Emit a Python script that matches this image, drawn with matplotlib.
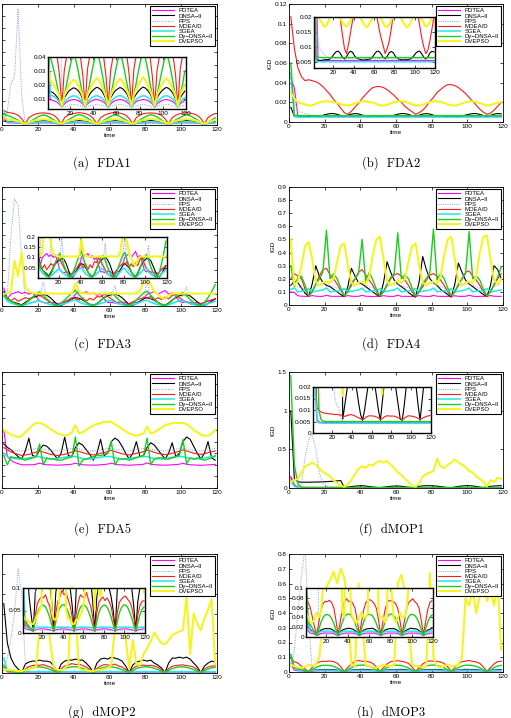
import matplotlib.pyplot as plt
from matplotlib.ticker import FuncFormatter

plt.rcParams['font.family'] = ['Liberation Sans', 'DejaVu Sans']

W, H = 511, 718

# time steps (every second step of the 120 environments)
t = list(range(1, 120, 2))

names = ['PDTEA', 'DNSA\u2212II', 'PPS', 'MOEA/D', 'SGEA', 'Dy\u2212DNSA\u2212II', 'DVEPSO']
colors = ['#ff00ff', '#000000', '#8c9ed8', '#ff1a1a', '#20e8e8', '#1ecc1e', '#f4f420']
widths = [0.8, 0.8, 0.7, 0.8, 1.1, 1.0, 1.5]
styles = ['-', '-', (0, (1, 1.3)), '-', '-', '-', '-']

# ---------------- (a) FDA1 ----------------
fda1_pdtea = [
    0.030, 0.0090, 0.0088, 0.0082, 0.0072, 0.0058, 0.0040, 0.0060, 0.0074, 0.0084,
    0.0090, 0.0094, 0.0091, 0.0086, 0.0076, 0.0060, 0.0041, 0.0061, 0.0075, 0.0085,
    0.0092, 0.0095, 0.0090, 0.0084, 0.0074, 0.0059, 0.0040, 0.0060, 0.0076, 0.0086,
    0.0091, 0.0093, 0.0091, 0.0085, 0.0075, 0.0060, 0.0041, 0.0062, 0.0077, 0.0086,
    0.0090, 0.0094, 0.0092, 0.0086, 0.0076, 0.0061, 0.0040, 0.0060, 0.0075, 0.0085,
    0.0091, 0.0094, 0.0090, 0.0085, 0.0075, 0.0060, 0.0041, 0.0061, 0.0076, 0.0086]
fda1_dnsa = [
    0.016, 0.0150, 0.0145, 0.0130, 0.0110, 0.0085, 0.0045, 0.0105, 0.0130, 0.0155,
    0.0168, 0.0178, 0.0172, 0.0158, 0.0135, 0.0095, 0.0045, 0.0102, 0.0132, 0.0154,
    0.0170, 0.0182, 0.0175, 0.0160, 0.0133, 0.0094, 0.0046, 0.0104, 0.0134, 0.0156,
    0.0169, 0.0180, 0.0173, 0.0157, 0.0134, 0.0096, 0.0045, 0.0103, 0.0131, 0.0153,
    0.0171, 0.0183, 0.0176, 0.0159, 0.0136, 0.0095, 0.0046, 0.0105, 0.0133, 0.0155,
    0.0170, 0.0181, 0.0174, 0.0158, 0.0134, 0.0094, 0.0045, 0.0104, 0.0132, 0.0154]
fda1_pps = [
    0.020, 0.060, 0.170, 0.200, 0.480, 0.120, 0.0050, 0.0042, 0.0045, 0.0050,
    0.0055, 0.0058, 0.0056, 0.0052, 0.0048, 0.0042, 0.0035, 0.0042, 0.0048, 0.0052,
    0.0056, 0.0057, 0.0055, 0.0051, 0.0047, 0.0041, 0.0035, 0.0043, 0.0049, 0.0053,
    0.0055, 0.0058, 0.0056, 0.0052, 0.0048, 0.0042, 0.0036, 0.0042, 0.0048, 0.0052,
    0.0056, 0.0058, 0.0055, 0.0051, 0.0047, 0.0042, 0.0035, 0.0043, 0.0049, 0.0053,
    0.0055, 0.0057, 0.0056, 0.0052, 0.0048, 0.0041, 0.0035, 0.0042, 0.0048, 0.0052]
fda1_moead = [
    0.060, 0.052, 0.050, 0.047, 0.040, 0.026, 0.0045, 0.030, 0.040, 0.046,
    0.049, 0.050, 0.049, 0.046, 0.040, 0.027, 0.0045, 0.031, 0.041, 0.046,
    0.049, 0.051, 0.049, 0.046, 0.040, 0.026, 0.0046, 0.030, 0.040, 0.046,
    0.050, 0.051, 0.050, 0.047, 0.041, 0.027, 0.0045, 0.031, 0.041, 0.047,
    0.049, 0.050, 0.049, 0.046, 0.040, 0.026, 0.0046, 0.030, 0.040, 0.046,
    0.050, 0.051, 0.049, 0.046, 0.040, 0.027, 0.0045, 0.031, 0.041, 0.047]
fda1_sgea = [
    0.060, 0.0125, 0.0120, 0.0110, 0.0095, 0.0072, 0.0042, 0.0072, 0.0092, 0.0106,
    0.0116, 0.0120, 0.0117, 0.0107, 0.0093, 0.0071, 0.0042, 0.0073, 0.0093, 0.0107,
    0.0117, 0.0121, 0.0116, 0.0106, 0.0092, 0.0070, 0.0043, 0.0072, 0.0094, 0.0108,
    0.0118, 0.0122, 0.0117, 0.0107, 0.0093, 0.0071, 0.0042, 0.0071, 0.0092, 0.0106,
    0.0116, 0.0120, 0.0118, 0.0108, 0.0094, 0.0072, 0.0043, 0.0073, 0.0093, 0.0107,
    0.0117, 0.0121, 0.0117, 0.0107, 0.0093, 0.0071, 0.0042, 0.0072, 0.0093, 0.0107]
fda1_dy = [
    0.045, 0.040, 0.034, 0.027, 0.019, 0.011, 0.0045, 0.012, 0.020, 0.029,
    0.037, 0.042, 0.038, 0.030, 0.021, 0.012, 0.0045, 0.013, 0.021, 0.030,
    0.038, 0.043, 0.039, 0.031, 0.022, 0.012, 0.0046, 0.012, 0.020, 0.029,
    0.037, 0.042, 0.038, 0.030, 0.021, 0.013, 0.0045, 0.013, 0.021, 0.030,
    0.038, 0.043, 0.039, 0.031, 0.021, 0.012, 0.0046, 0.012, 0.021, 0.029,
    0.037, 0.042, 0.038, 0.030, 0.021, 0.012, 0.0045, 0.013, 0.020, 0.030]
fda1_dvepso = [
    0.035, 0.0230, 0.0210, 0.0185, 0.0155, 0.0110, 0.0048, 0.0120, 0.0160, 0.0195,
    0.0220, 0.0235, 0.0225, 0.0195, 0.0160, 0.0115, 0.0048, 0.0125, 0.0165, 0.0200,
    0.0225, 0.0250, 0.0230, 0.0200, 0.0162, 0.0112, 0.0049, 0.0122, 0.0162, 0.0198,
    0.0222, 0.0245, 0.0228, 0.0197, 0.0158, 0.0114, 0.0048, 0.0124, 0.0166, 0.0202,
    0.0228, 0.0255, 0.0232, 0.0199, 0.0161, 0.0113, 0.0049, 0.0123, 0.0164, 0.0200,
    0.0224, 0.0248, 0.0229, 0.0198, 0.0160, 0.0114, 0.0048, 0.0125, 0.0165, 0.0201]

# ---------------- (b) FDA2 ----------------
fda2_pdtea = [
    0.045, 0.035, 0.0056, 0.0055, 0.0055, 0.0054, 0.0055, 0.0055, 0.0054, 0.0055,
    0.0055, 0.0054, 0.0055, 0.0055, 0.0054, 0.0055, 0.0055, 0.0055, 0.0054, 0.0055,
    0.0055, 0.0055, 0.0054, 0.0055, 0.0055, 0.0054, 0.0055, 0.0055, 0.0055, 0.0054,
    0.0055, 0.0055, 0.0054, 0.0055, 0.0055, 0.0055, 0.0054, 0.0055, 0.0055, 0.0055,
    0.0054, 0.0055, 0.0055, 0.0055, 0.0054, 0.0055, 0.0055, 0.0054, 0.0055, 0.0055,
    0.0055, 0.0054, 0.0055, 0.0055, 0.0055, 0.0054, 0.0055, 0.0055, 0.0054, 0.0055]
fda2_dnsa = [
    0.015, 0.0060, 0.0055, 0.0055, 0.0056, 0.0057, 0.0058, 0.0058, 0.0060, 0.0068,
    0.0078, 0.0085, 0.0086, 0.0078, 0.0066, 0.0060, 0.0068, 0.0080, 0.0086, 0.0082,
    0.0070, 0.0063, 0.0060, 0.0058, 0.0057, 0.0057, 0.0058, 0.0059, 0.0061, 0.0069,
    0.0079, 0.0086, 0.0085, 0.0077, 0.0065, 0.0061, 0.0069, 0.0081, 0.0085, 0.0081,
    0.0069, 0.0062, 0.0059, 0.0058, 0.0057, 0.0058, 0.0058, 0.0059, 0.0062, 0.0070,
    0.0079, 0.0085, 0.0086, 0.0077, 0.0066, 0.0060, 0.0067, 0.0080, 0.0086, 0.0083]
fda2_pps = [
    0.040, 0.020, 0.0110, 0.0095, 0.0085, 0.0075, 0.0068, 0.0064, 0.0062, 0.0061,
    0.0060, 0.0061, 0.0060, 0.0060, 0.0061, 0.0060, 0.0060, 0.0061, 0.0060, 0.0060,
    0.0061, 0.0060, 0.0060, 0.0061, 0.0060, 0.0060, 0.0061, 0.0060, 0.0060, 0.0061,
    0.0060, 0.0060, 0.0061, 0.0060, 0.0060, 0.0061, 0.0060, 0.0060, 0.0061, 0.0060,
    0.0060, 0.0061, 0.0060, 0.0060, 0.0061, 0.0060, 0.0060, 0.0061, 0.0060, 0.0060,
    0.0061, 0.0060, 0.0060, 0.0061, 0.0060, 0.0060, 0.0061, 0.0060, 0.0060, 0.0061]
fda2_moead = [
    0.107, 0.075, 0.055, 0.046, 0.042, 0.043, 0.042, 0.041, 0.039, 0.036,
    0.032, 0.028, 0.023, 0.019, 0.014, 0.0095, 0.0078, 0.011, 0.015, 0.019,
    0.024, 0.028, 0.032, 0.035, 0.036, 0.036, 0.035, 0.033, 0.030, 0.027,
    0.023, 0.020, 0.016, 0.013, 0.0105, 0.0078, 0.0095, 0.012, 0.016, 0.021,
    0.025, 0.030, 0.033, 0.036, 0.038, 0.038, 0.037, 0.035, 0.032, 0.029,
    0.025, 0.021, 0.017, 0.013, 0.010, 0.0078, 0.009, 0.012, 0.016, 0.020]
fda2_sgea = [
    0.050, 0.0053, 0.0052, 0.0051, 0.0051, 0.0050, 0.0051, 0.0051, 0.0050, 0.0051,
    0.0051, 0.0050, 0.0051, 0.0051, 0.0050, 0.0051, 0.0051, 0.0051, 0.0050, 0.0051,
    0.0051, 0.0051, 0.0050, 0.0051, 0.0051, 0.0050, 0.0051, 0.0051, 0.0051, 0.0050,
    0.0051, 0.0051, 0.0050, 0.0051, 0.0051, 0.0051, 0.0050, 0.0051, 0.0051, 0.0051,
    0.0050, 0.0051, 0.0051, 0.0051, 0.0050, 0.0051, 0.0051, 0.0050, 0.0051, 0.0051,
    0.0051, 0.0050, 0.0051, 0.0051, 0.0051, 0.0050, 0.0051, 0.0051, 0.0050, 0.0051]
fda2_dy = [
    0.060, 0.0068, 0.0066, 0.0065, 0.0065, 0.0064, 0.0065, 0.0065, 0.0064, 0.0065,
    0.0065, 0.0064, 0.0065, 0.0065, 0.0064, 0.0065, 0.0065, 0.0065, 0.0064, 0.0065,
    0.0065, 0.0065, 0.0064, 0.0065, 0.0065, 0.0064, 0.0065, 0.0065, 0.0065, 0.0064,
    0.0065, 0.0065, 0.0064, 0.0065, 0.0065, 0.0065, 0.0064, 0.0065, 0.0065, 0.0065,
    0.0064, 0.0065, 0.0065, 0.0065, 0.0064, 0.0065, 0.0065, 0.0064, 0.0065, 0.0065,
    0.0065, 0.0064, 0.0065, 0.0065, 0.0065, 0.0064, 0.0065, 0.0065, 0.0064, 0.0065]
fda2_dvepso = [
    0.030, 0.0240, 0.0200, 0.0190, 0.0180, 0.0168, 0.0170, 0.0185, 0.0200, 0.0208,
    0.0210, 0.0208, 0.0202, 0.0193, 0.0182, 0.0172, 0.0168, 0.0176, 0.0190, 0.0202,
    0.0210, 0.0211, 0.0205, 0.0196, 0.0183, 0.0171, 0.0166, 0.0174, 0.0188, 0.0201,
    0.0209, 0.0212, 0.0206, 0.0195, 0.0181, 0.0169, 0.0167, 0.0176, 0.0190, 0.0203,
    0.0210, 0.0211, 0.0204, 0.0194, 0.0180, 0.0170, 0.0166, 0.0175, 0.0189, 0.0202,
    0.0209, 0.0210, 0.0203, 0.0192, 0.0180, 0.0168, 0.0172, 0.0185, 0.0196, 0.0203]

# ---------------- (c) FDA3 ----------------
fda3_pdtea = [
    0.150, 0.060, 0.100, 0.110, 0.120, 0.105, 0.115, 0.100, 0.110, 0.080,
    0.040, 0.030, 0.025, 0.030, 0.030, 0.020, 0.025, 0.030, 0.035, 0.050,
    0.100, 0.115, 0.105, 0.120, 0.100, 0.110, 0.090, 0.100, 0.060, 0.030,
    0.030, 0.025, 0.030, 0.035, 0.025, 0.020, 0.030, 0.030, 0.040, 0.060,
    0.100, 0.110, 0.120, 0.100, 0.115, 0.130, 0.100, 0.110, 0.080, 0.040,
    0.030, 0.035, 0.030, 0.025, 0.030, 0.020, 0.030, 0.040, 0.050, 0.060]
fda3_dnsa = [
    0.120, 0.060, 0.040, 0.030, 0.020, 0.010, 0.030, 0.050, 0.070, 0.080,
    0.090, 0.095, 0.090, 0.070, 0.040, 0.010, 0.004, 0.020, 0.040, 0.060,
    0.070, 0.065, 0.050, 0.030, 0.015, 0.006, 0.020, 0.045, 0.070, 0.085,
    0.095, 0.100, 0.090, 0.070, 0.040, 0.012, 0.005, 0.020, 0.040, 0.060,
    0.070, 0.060, 0.050, 0.030, 0.015, 0.006, 0.025, 0.050, 0.070, 0.085,
    0.095, 0.095, 0.085, 0.060, 0.035, 0.010, 0.005, 0.020, 0.040, 0.060]
fda3_pps = [
    0.060, 0.100, 0.600, 0.900, 0.850, 0.400, 0.050, 0.030, 0.025, 0.030,
    0.080, 0.200, 0.050, 0.030, 0.020, 0.015, 0.020, 0.025, 0.030, 0.060,
    0.150, 0.050, 0.030, 0.025, 0.020, 0.015, 0.020, 0.025, 0.030, 0.050,
    0.080, 0.170, 0.040, 0.025, 0.020, 0.015, 0.020, 0.025, 0.035, 0.070,
    0.220, 0.060, 0.030, 0.025, 0.020, 0.015, 0.020, 0.025, 0.030, 0.050,
    0.090, 0.160, 0.040, 0.025, 0.020, 0.015, 0.020, 0.025, 0.030, 0.040]
fda3_moead = [
    0.080, 0.070, 0.045, 0.065, 0.040, 0.055, 0.070, 0.060, 0.075, 0.100,
    0.090, 0.070, 0.050, 0.030, 0.015, 0.010, 0.020, 0.040, 0.050, 0.070,
    0.060, 0.050, 0.070, 0.040, 0.065, 0.050, 0.080, 0.075, 0.100, 0.080,
    0.060, 0.040, 0.020, 0.012, 0.010, 0.020, 0.035, 0.050, 0.060, 0.070,
    0.065, 0.080, 0.050, 0.070, 0.055, 0.075, 0.060, 0.090, 0.100, 0.070,
    0.050, 0.035, 0.020, 0.012, 0.010, 0.020, 0.030, 0.045, 0.050, 0.060]
fda3_sgea = [
    0.090, 0.040, 0.025, 0.015, 0.008, 0.003, 0.010, 0.020, 0.030, 0.040,
    0.045, 0.030, 0.020, 0.012, 0.006, 0.003, 0.010, 0.020, 0.032, 0.045,
    0.050, 0.032, 0.020, 0.012, 0.006, 0.003, 0.011, 0.021, 0.030, 0.042,
    0.046, 0.030, 0.019, 0.011, 0.006, 0.003, 0.010, 0.020, 0.031, 0.044,
    0.048, 0.031, 0.020, 0.012, 0.006, 0.003, 0.010, 0.022, 0.033, 0.045,
    0.047, 0.030, 0.020, 0.012, 0.006, 0.003, 0.010, 0.020, 0.030, 0.040]
fda3_dy = [
    0.100, 0.060, 0.040, 0.025, 0.012, 0.004, 0.020, 0.045, 0.070, 0.100,
    0.120, 0.090, 0.060, 0.035, 0.012, 0.004, 0.025, 0.050, 0.080, 0.110,
    0.130, 0.095, 0.060, 0.030, 0.012, 0.004, 0.020, 0.045, 0.070, 0.100,
    0.110, 0.085, 0.055, 0.030, 0.010, 0.004, 0.022, 0.050, 0.080, 0.110,
    0.125, 0.090, 0.060, 0.032, 0.012, 0.004, 0.020, 0.045, 0.075, 0.100,
    0.115, 0.085, 0.055, 0.030, 0.012, 0.004, 0.030, 0.070, 0.120, 0.180]
fda3_dvepso = [
    0.100, 0.110, 0.120, 0.380, 0.250, 0.450, 0.160, 0.120, 0.110, 0.105,
    0.105, 0.105, 0.104, 0.105, 0.105, 0.104, 0.105, 0.105, 0.106, 0.105,
    0.190, 0.120, 0.107, 0.105, 0.105, 0.105, 0.104, 0.105, 0.105, 0.105,
    0.105, 0.105, 0.104, 0.105, 0.106, 0.105, 0.105, 0.104, 0.130, 0.200,
    0.210, 0.180, 0.120, 0.100, 0.070, 0.060, 0.090, 0.104, 0.105, 0.105,
    0.105, 0.105, 0.105, 0.104, 0.105, 0.105, 0.105, 0.105, 0.105, 0.105]

# ---------------- (d) FDA4 ----------------
fda4_pdtea = [
    0.100, 0.095, 0.070, 0.067, 0.066, 0.066, 0.072, 0.067, 0.066, 0.066,
    0.075, 0.067, 0.066, 0.066, 0.066, 0.065, 0.072, 0.067, 0.066, 0.066,
    0.074, 0.067, 0.066, 0.065, 0.066, 0.066, 0.071, 0.067, 0.066, 0.066,
    0.075, 0.066, 0.066, 0.066, 0.065, 0.066, 0.072, 0.067, 0.066, 0.065,
    0.074, 0.067, 0.066, 0.066, 0.066, 0.065, 0.071, 0.066, 0.066, 0.066,
    0.075, 0.067, 0.065, 0.066, 0.066, 0.066, 0.072, 0.067, 0.066, 0.066]
fda4_dnsa = [
    0.150, 0.180, 0.170, 0.130, 0.090, 0.065, 0.160, 0.300, 0.220, 0.170,
    0.150, 0.140, 0.120, 0.100, 0.080, 0.065, 0.140, 0.280, 0.220, 0.170,
    0.160, 0.140, 0.120, 0.100, 0.080, 0.065, 0.170, 0.330, 0.250, 0.190,
    0.160, 0.140, 0.120, 0.095, 0.075, 0.060, 0.180, 0.370, 0.270, 0.200,
    0.170, 0.150, 0.120, 0.100, 0.080, 0.060, 0.160, 0.320, 0.250, 0.190,
    0.160, 0.140, 0.120, 0.100, 0.080, 0.065, 0.150, 0.300, 0.270, 0.200]
fda4_pps = [
    0.160, 0.150, 0.140, 0.130, 0.120, 0.110, 0.120, 0.140, 0.150, 0.160,
    0.160, 0.150, 0.140, 0.130, 0.120, 0.110, 0.120, 0.140, 0.150, 0.160,
    0.165, 0.150, 0.140, 0.130, 0.120, 0.110, 0.120, 0.140, 0.150, 0.160,
    0.160, 0.150, 0.140, 0.130, 0.120, 0.110, 0.120, 0.140, 0.150, 0.165,
    0.160, 0.150, 0.140, 0.130, 0.120, 0.110, 0.120, 0.140, 0.150, 0.160,
    0.160, 0.150, 0.140, 0.130, 0.120, 0.110, 0.120, 0.140, 0.150, 0.160]
fda4_moead = [
    0.200, 0.240, 0.220, 0.200, 0.120, 0.065, 0.100, 0.160, 0.220, 0.270,
    0.280, 0.230, 0.200, 0.160, 0.110, 0.070, 0.100, 0.150, 0.200, 0.250,
    0.270, 0.230, 0.190, 0.150, 0.100, 0.065, 0.100, 0.150, 0.200, 0.230,
    0.240, 0.220, 0.190, 0.150, 0.100, 0.065, 0.100, 0.140, 0.190, 0.230,
    0.240, 0.220, 0.190, 0.150, 0.100, 0.065, 0.100, 0.150, 0.200, 0.250,
    0.260, 0.220, 0.190, 0.150, 0.100, 0.065, 0.100, 0.150, 0.200, 0.240]
fda4_sgea = [
    0.120, 0.130, 0.100, 0.105, 0.110, 0.125, 0.100, 0.105, 0.110, 0.115,
    0.130, 0.100, 0.104, 0.108, 0.112, 0.126, 0.100, 0.105, 0.110, 0.114,
    0.128, 0.100, 0.105, 0.109, 0.112, 0.125, 0.101, 0.105, 0.110, 0.115,
    0.130, 0.100, 0.104, 0.108, 0.113, 0.126, 0.100, 0.105, 0.109, 0.114,
    0.129, 0.101, 0.105, 0.108, 0.112, 0.125, 0.100, 0.104, 0.110, 0.115,
    0.130, 0.100, 0.105, 0.109, 0.112, 0.126, 0.100, 0.105, 0.110, 0.115]
fda4_dy = [
    0.300, 0.140, 0.210, 0.220, 0.150, 0.070, 0.100, 0.160, 0.200, 0.250,
    0.570, 0.200, 0.240, 0.200, 0.130, 0.070, 0.100, 0.170, 0.200, 0.240,
    0.500, 0.180, 0.250, 0.190, 0.120, 0.070, 0.100, 0.160, 0.210, 0.240,
    0.550, 0.200, 0.230, 0.200, 0.130, 0.070, 0.100, 0.170, 0.200, 0.250,
    0.580, 0.190, 0.240, 0.200, 0.130, 0.070, 0.100, 0.160, 0.200, 0.240,
    0.560, 0.200, 0.220, 0.190, 0.120, 0.070, 0.100, 0.160, 0.210, 0.290]
fda4_dvepso = [
    0.500, 0.150, 0.180, 0.300, 0.450, 0.480, 0.350, 0.180, 0.150, 0.170,
    0.180, 0.170, 0.200, 0.330, 0.450, 0.470, 0.300, 0.170, 0.150, 0.170,
    0.180, 0.160, 0.220, 0.380, 0.500, 0.520, 0.350, 0.180, 0.150, 0.170,
    0.190, 0.170, 0.200, 0.330, 0.450, 0.470, 0.300, 0.170, 0.150, 0.170,
    0.180, 0.160, 0.220, 0.380, 0.500, 0.520, 0.350, 0.180, 0.150, 0.170,
    0.180, 0.170, 0.220, 0.400, 0.520, 0.530, 0.350, 0.190, 0.160, 0.200]

# ---------------- (e) FDA5 ----------------
fda5_pdtea = [
    0.500, 0.270, 0.240, 0.220, 0.210, 0.200, 0.200, 0.200, 0.200, 0.205,
    0.215, 0.205, 0.200, 0.200, 0.198, 0.197, 0.198, 0.200, 0.202, 0.205,
    0.214, 0.204, 0.200, 0.199, 0.198, 0.197, 0.198, 0.200, 0.202, 0.206,
    0.215, 0.205, 0.200, 0.200, 0.198, 0.196, 0.198, 0.200, 0.201, 0.205,
    0.216, 0.205, 0.201, 0.199, 0.198, 0.197, 0.198, 0.200, 0.202, 0.205,
    0.214, 0.204, 0.200, 0.199, 0.197, 0.196, 0.197, 0.199, 0.201, 0.204]
fda5_dnsa = [
    0.380, 0.350, 0.330, 0.300, 0.270, 0.250, 0.320, 0.430, 0.280, 0.270,
    0.330, 0.370, 0.360, 0.330, 0.290, 0.250, 0.300, 0.440, 0.280, 0.270,
    0.350, 0.390, 0.370, 0.330, 0.290, 0.240, 0.300, 0.420, 0.280, 0.300,
    0.400, 0.430, 0.410, 0.360, 0.300, 0.250, 0.300, 0.400, 0.270, 0.280,
    0.350, 0.390, 0.370, 0.330, 0.290, 0.250, 0.300, 0.390, 0.270, 0.300,
    0.400, 0.440, 0.420, 0.360, 0.300, 0.250, 0.300, 0.400, 0.260, 0.240]
fda5_pps = [
    0.340, 0.335, 0.330, 0.325, 0.320, 0.320, 0.325, 0.330, 0.335, 0.340,
    0.340, 0.335, 0.330, 0.325, 0.320, 0.320, 0.325, 0.330, 0.335, 0.340,
    0.342, 0.336, 0.330, 0.324, 0.320, 0.321, 0.326, 0.331, 0.336, 0.340,
    0.340, 0.335, 0.330, 0.325, 0.320, 0.320, 0.325, 0.330, 0.335, 0.341,
    0.341, 0.335, 0.329, 0.325, 0.321, 0.320, 0.324, 0.330, 0.335, 0.340,
    0.340, 0.335, 0.330, 0.325, 0.320, 0.320, 0.325, 0.330, 0.335, 0.340]
fda5_moead = [
    0.350, 0.330, 0.310, 0.300, 0.290, 0.280, 0.285, 0.290, 0.300, 0.310,
    0.320, 0.310, 0.300, 0.290, 0.285, 0.280, 0.285, 0.290, 0.300, 0.310,
    0.320, 0.315, 0.305, 0.295, 0.290, 0.285, 0.290, 0.300, 0.305, 0.315,
    0.325, 0.315, 0.305, 0.295, 0.290, 0.285, 0.290, 0.300, 0.305, 0.315,
    0.325, 0.318, 0.308, 0.298, 0.292, 0.288, 0.292, 0.300, 0.308, 0.318,
    0.328, 0.320, 0.310, 0.300, 0.294, 0.290, 0.295, 0.305, 0.312, 0.320]
fda5_sgea = [
    0.300, 0.270, 0.260, 0.255, 0.250, 0.250, 0.255, 0.260, 0.265, 0.270,
    0.270, 0.260, 0.255, 0.250, 0.250, 0.255, 0.260, 0.265, 0.270, 0.270,
    0.272, 0.262, 0.255, 0.251, 0.250, 0.254, 0.260, 0.265, 0.269, 0.271,
    0.270, 0.261, 0.256, 0.250, 0.250, 0.255, 0.259, 0.265, 0.270, 0.270,
    0.271, 0.260, 0.255, 0.251, 0.249, 0.255, 0.260, 0.264, 0.270, 0.271,
    0.270, 0.261, 0.255, 0.250, 0.250, 0.254, 0.260, 0.265, 0.270, 0.270]
fda5_dy = [
    0.280, 0.200, 0.270, 0.260, 0.260, 0.250, 0.240, 0.250, 0.260, 0.270,
    0.380, 0.200, 0.260, 0.250, 0.250, 0.240, 0.240, 0.250, 0.260, 0.270,
    0.440, 0.190, 0.240, 0.250, 0.260, 0.270, 0.280, 0.280, 0.290, 0.300,
    0.400, 0.200, 0.250, 0.250, 0.250, 0.240, 0.250, 0.260, 0.270, 0.280,
    0.430, 0.200, 0.250, 0.260, 0.260, 0.250, 0.250, 0.260, 0.270, 0.280,
    0.420, 0.210, 0.260, 0.250, 0.260, 0.250, 0.240, 0.250, 0.260, 0.280]
fda5_dvepso = [
    0.500, 0.480, 0.460, 0.450, 0.440, 0.450, 0.480, 0.510, 0.540, 0.560,
    0.560, 0.550, 0.530, 0.510, 0.490, 0.470, 0.460, 0.450, 0.460, 0.480,
    0.540, 0.470, 0.480, 0.500, 0.520, 0.540, 0.550, 0.560, 0.570, 0.570,
    0.570, 0.550, 0.530, 0.510, 0.490, 0.470, 0.460, 0.450, 0.460, 0.470,
    0.530, 0.470, 0.480, 0.500, 0.520, 0.540, 0.550, 0.560, 0.560, 0.560,
    0.560, 0.550, 0.530, 0.500, 0.480, 0.460, 0.450, 0.450, 0.470, 0.500]

# ---------------- (f) dMOP1 ----------------
dmop1_pdtea = [
    0.150, 0.040, 0.0060, 0.0048, 0.0047, 0.0047, 0.0046, 0.0047, 0.0047, 0.0046,
    0.0047, 0.0047, 0.0046, 0.0047, 0.0047, 0.0047, 0.0046, 0.0047, 0.0047, 0.0046,
    0.0047, 0.0046, 0.0047, 0.0047, 0.0047, 0.0046, 0.0047, 0.0047, 0.0046, 0.0047,
    0.0047, 0.0047, 0.0046, 0.0047, 0.0047, 0.0046, 0.0047, 0.0047, 0.0047, 0.0046,
    0.0047, 0.0046, 0.0047, 0.0047, 0.0046, 0.0047, 0.0047, 0.0047, 0.0046, 0.0047,
    0.0047, 0.0047, 0.0046, 0.0047, 0.0047, 0.0046, 0.0047, 0.0047, 0.0047, 0.0046]
dmop1_dnsa = [
    1.000, 0.120, 0.080, 0.076, 0.075, 0.075, 0.076, 0.077, 0.078, 0.080,
    0.082, 0.085, 0.088, 0.092, 0.097, 0.006, 0.012, 0.018, 0.024, 0.028,
    0.030, 0.025, 0.019, 0.013, 0.008, 0.0055, 0.010, 0.016, 0.022, 0.025,
    0.026, 0.022, 0.016, 0.010, 0.0055, 0.014, 0.022, 0.027, 0.030, 0.030,
    0.028, 0.024, 0.018, 0.012, 0.006, 0.0055, 0.012, 0.020, 0.026, 0.030,
    0.030, 0.026, 0.020, 0.012, 0.0055, 0.014, 0.022, 0.026, 0.028, 0.030]
dmop1_pps = [
    0.050, 0.040, 0.030, 0.050, 0.400, 0.620, 0.700, 0.500, 0.200, 0.060,
    0.030, 0.015, 0.012, 0.011, 0.006, 0.005, 0.0046, 0.0045, 0.0045, 0.0046,
    0.0045, 0.0045, 0.0046, 0.0045, 0.0045, 0.0046, 0.0045, 0.0045, 0.0046, 0.0045,
    0.0045, 0.0046, 0.0045, 0.0045, 0.0046, 0.0045, 0.0045, 0.0046, 0.0045, 0.0045,
    0.0046, 0.0045, 0.0045, 0.0046, 0.0045, 0.0045, 0.0046, 0.0045, 0.0045, 0.0046,
    0.0045, 0.0045, 0.0046, 0.0045, 0.0045, 0.0046, 0.0045, 0.0045, 0.0046, 0.0045]
dmop1_moead = [
    0.130, 0.030, 0.0110, 0.0098, 0.0092, 0.0088, 0.0086, 0.0085, 0.0084, 0.0083,
    0.0082, 0.0080, 0.0081, 0.0079, 0.0078, 0.0074, 0.0072, 0.0075, 0.0078, 0.0080,
    0.0078, 0.0075, 0.0070, 0.0066, 0.0062, 0.0058, 0.0063, 0.0070, 0.0074, 0.0075,
    0.0074, 0.0073, 0.0070, 0.0066, 0.0058, 0.0063, 0.0070, 0.0074, 0.0075, 0.0073,
    0.0074, 0.0073, 0.0070, 0.0066, 0.0062, 0.0058, 0.0064, 0.0070, 0.0075, 0.0074,
    0.0073, 0.0071, 0.0068, 0.0064, 0.0060, 0.0063, 0.0068, 0.0072, 0.0074, 0.0076]
dmop1_sgea = [
    0.100, 0.020, 0.0050, 0.0044, 0.0043, 0.0043, 0.0042, 0.0042, 0.0043, 0.0042,
    0.0042, 0.0043, 0.0042, 0.0042, 0.0042, 0.0043, 0.0042, 0.0042, 0.0043, 0.0042,
    0.0042, 0.0042, 0.0043, 0.0042, 0.0042, 0.0042, 0.0043, 0.0042, 0.0042, 0.0043,
    0.0042, 0.0042, 0.0042, 0.0043, 0.0042, 0.0042, 0.0043, 0.0042, 0.0042, 0.0042,
    0.0043, 0.0042, 0.0042, 0.0042, 0.0043, 0.0042, 0.0042, 0.0043, 0.0042, 0.0042,
    0.0042, 0.0043, 0.0042, 0.0042, 0.0042, 0.0043, 0.0042, 0.0042, 0.0043, 0.0042]
dmop1_dy = [
    1.450, 0.300, 0.050, 0.010, 0.0060, 0.0052, 0.0050, 0.0049, 0.0050, 0.0050,
    0.0050, 0.0049, 0.0050, 0.0050, 0.0049, 0.0050, 0.0050, 0.0050, 0.0049, 0.0050,
    0.0050, 0.0050, 0.0049, 0.0050, 0.0050, 0.0049, 0.0050, 0.0050, 0.0050, 0.0049,
    0.0050, 0.0050, 0.0049, 0.0050, 0.0050, 0.0050, 0.0049, 0.0050, 0.0050, 0.0050,
    0.0049, 0.0050, 0.0050, 0.0050, 0.0049, 0.0050, 0.0050, 0.0049, 0.0050, 0.0050,
    0.0050, 0.0049, 0.0050, 0.0050, 0.0050, 0.0049, 0.0050, 0.0050, 0.0049, 0.0050]
dmop1_dvepso = [
    0.080, 0.100, 0.120, 0.200, 0.280, 0.300, 0.330, 0.300, 0.250, 0.210,
    0.180, 0.150, 0.100, 0.060, 0.030, 0.016, 0.050, 0.100, 0.180, 0.250,
    0.280, 0.260, 0.300, 0.290, 0.330, 0.350, 0.330, 0.350, 0.300, 0.260,
    0.200, 0.170, 0.120, 0.080, 0.030, 0.017, 0.060, 0.150, 0.180, 0.200,
    0.220, 0.380, 0.280, 0.260, 0.300, 0.330, 0.370, 0.330, 0.300, 0.270,
    0.220, 0.200, 0.150, 0.120, 0.080, 0.020, 0.100, 0.080, 0.130, 0.120]

# ---------------- (g) dMOP2 ----------------
dmop2_pdtea = [
    0.050, 0.010, 0.008, 0.007, 0.006, 0.004, 0.007, 0.008, 0.009, 0.009,
    0.009, 0.009, 0.008, 0.007, 0.006, 0.004, 0.007, 0.008, 0.009, 0.009,
    0.009, 0.009, 0.008, 0.007, 0.006, 0.004, 0.007, 0.008, 0.009, 0.009,
    0.009, 0.009, 0.008, 0.007, 0.006, 0.004, 0.007, 0.008, 0.009, 0.009,
    0.009, 0.009, 0.008, 0.007, 0.006, 0.004, 0.007, 0.008, 0.009, 0.009,
    0.009, 0.009, 0.008, 0.007, 0.006, 0.004, 0.007, 0.008, 0.009, 0.009]
dmop2_dnsa = [
    0.700, 0.300, 0.150, 0.080, 0.040, 0.005, 0.090, 0.110, 0.120, 0.120,
    0.130, 0.120, 0.120, 0.110, 0.070, 0.005, 0.090, 0.120, 0.130, 0.130,
    0.140, 0.130, 0.130, 0.100, 0.060, 0.005, 0.100, 0.140, 0.150, 0.140,
    0.160, 0.150, 0.140, 0.120, 0.070, 0.005, 0.080, 0.110, 0.120, 0.130,
    0.120, 0.130, 0.100, 0.080, 0.050, 0.005, 0.100, 0.150, 0.150, 0.160,
    0.150, 0.160, 0.140, 0.100, 0.060, 0.005, 0.070, 0.100, 0.120, 0.110]
dmop2_pps = [
    0.020, 0.150, 0.350, 0.600, 1.050, 0.800, 0.100, 0.010, 0.006, 0.006,
    0.006, 0.006, 0.006, 0.006, 0.006, 0.005, 0.006, 0.006, 0.006, 0.006,
    0.006, 0.006, 0.006, 0.006, 0.006, 0.005, 0.006, 0.006, 0.006, 0.006,
    0.006, 0.006, 0.006, 0.006, 0.006, 0.005, 0.006, 0.006, 0.006, 0.006,
    0.006, 0.006, 0.006, 0.006, 0.006, 0.005, 0.006, 0.006, 0.006, 0.006,
    0.006, 0.006, 0.006, 0.006, 0.006, 0.005, 0.006, 0.006, 0.006, 0.006]
dmop2_moead = [
    0.060, 0.030, 0.020, 0.015, 0.010, 0.005, 0.040, 0.065, 0.075, 0.080,
    0.078, 0.085, 0.070, 0.060, 0.035, 0.005, 0.045, 0.070, 0.080, 0.095,
    0.085, 0.090, 0.075, 0.060, 0.035, 0.005, 0.045, 0.070, 0.085, 0.080,
    0.078, 0.090, 0.072, 0.060, 0.035, 0.005, 0.045, 0.068, 0.075, 0.080,
    0.072, 0.078, 0.070, 0.058, 0.033, 0.005, 0.045, 0.068, 0.075, 0.080,
    0.082, 0.075, 0.070, 0.058, 0.035, 0.005, 0.040, 0.060, 0.070, 0.072]
dmop2_sgea = [
    0.150, 0.020, 0.013, 0.012, 0.012, 0.010, 0.012, 0.013, 0.013, 0.013,
    0.013, 0.013, 0.013, 0.012, 0.011, 0.010, 0.012, 0.013, 0.013, 0.013,
    0.013, 0.013, 0.013, 0.012, 0.011, 0.010, 0.012, 0.013, 0.013, 0.013,
    0.013, 0.013, 0.013, 0.012, 0.011, 0.010, 0.012, 0.013, 0.013, 0.013,
    0.013, 0.013, 0.013, 0.012, 0.011, 0.010, 0.012, 0.013, 0.013, 0.013,
    0.013, 0.013, 0.013, 0.012, 0.011, 0.010, 0.012, 0.013, 0.013, 0.013]
dmop2_dy = [
    0.080, 0.020, 0.015, 0.010, 0.006, 0.004, 0.025, 0.045, 0.055, 0.060,
    0.062, 0.058, 0.048, 0.035, 0.018, 0.004, 0.025, 0.045, 0.056, 0.062,
    0.063, 0.058, 0.047, 0.034, 0.018, 0.004, 0.026, 0.046, 0.057, 0.062,
    0.062, 0.057, 0.047, 0.034, 0.017, 0.004, 0.025, 0.045, 0.056, 0.061,
    0.062, 0.058, 0.048, 0.035, 0.018, 0.004, 0.025, 0.045, 0.056, 0.062,
    0.062, 0.057, 0.047, 0.034, 0.018, 0.004, 0.022, 0.040, 0.052, 0.058]
dmop2_dvepso = [
    0.040, 0.030, 0.030, 0.025, 0.020, 0.020, 0.030, 0.040, 0.050, 0.060,
    0.450, 0.750, 0.700, 0.300, 0.050, 0.030, 0.030, 0.040, 0.100, 0.870,
    0.600, 0.050, 0.030, 0.030, 0.020, 0.020, 0.030, 0.030, 0.040, 0.050,
    0.080, 0.450, 0.670, 0.500, 0.350, 0.050, 0.330, 0.090, 0.080, 0.190,
    0.250, 0.320, 0.410, 0.350, 0.300, 0.290, 0.330, 0.380, 0.400, 0.420,
    0.430, 0.770, 0.190, 0.600, 0.500, 0.430, 0.550, 0.640, 0.740, 0.090]

# ---------------- (h) dMOP3 ----------------
dmop3_pdtea = [
    0.060, 0.012, 0.008, 0.007, 0.006, 0.003, 0.005, 0.007, 0.008, 0.008,
    0.008, 0.008, 0.008, 0.007, 0.005, 0.003, 0.005, 0.007, 0.008, 0.008,
    0.008, 0.008, 0.008, 0.007, 0.005, 0.003, 0.005, 0.007, 0.008, 0.008,
    0.008, 0.008, 0.008, 0.007, 0.005, 0.003, 0.005, 0.007, 0.008, 0.008,
    0.008, 0.008, 0.008, 0.007, 0.005, 0.003, 0.005, 0.007, 0.008, 0.008,
    0.008, 0.008, 0.008, 0.007, 0.005, 0.003, 0.005, 0.007, 0.008, 0.008]
dmop3_dnsa = [
    0.100, 0.030, 0.015, 0.012, 0.008, 0.004, 0.010, 0.014, 0.016, 0.017,
    0.017, 0.017, 0.016, 0.013, 0.009, 0.004, 0.010, 0.014, 0.016, 0.017,
    0.018, 0.017, 0.016, 0.013, 0.009, 0.004, 0.010, 0.014, 0.016, 0.017,
    0.017, 0.018, 0.016, 0.013, 0.009, 0.004, 0.010, 0.014, 0.016, 0.017,
    0.017, 0.017, 0.016, 0.013, 0.009, 0.004, 0.010, 0.014, 0.016, 0.018,
    0.017, 0.017, 0.016, 0.013, 0.009, 0.004, 0.010, 0.014, 0.016, 0.017]
dmop3_pps = [
    0.030, 0.150, 0.400, 0.650, 0.850, 0.350, 0.010, 0.006, 0.006, 0.006,
    0.006, 0.006, 0.006, 0.006, 0.005, 0.004, 0.005, 0.006, 0.006, 0.006,
    0.006, 0.006, 0.006, 0.006, 0.005, 0.004, 0.005, 0.006, 0.006, 0.006,
    0.006, 0.006, 0.006, 0.006, 0.005, 0.004, 0.005, 0.006, 0.006, 0.006,
    0.006, 0.006, 0.006, 0.006, 0.005, 0.004, 0.005, 0.006, 0.006, 0.006,
    0.006, 0.006, 0.006, 0.006, 0.005, 0.004, 0.005, 0.006, 0.006, 0.006]
dmop3_moead = [
    0.090, 0.070, 0.060, 0.040, 0.020, 0.004, 0.030, 0.055, 0.068, 0.073,
    0.072, 0.075, 0.070, 0.060, 0.035, 0.005, 0.030, 0.055, 0.072, 0.078,
    0.072, 0.074, 0.068, 0.058, 0.034, 0.005, 0.030, 0.055, 0.070, 0.075,
    0.076, 0.073, 0.068, 0.058, 0.034, 0.005, 0.030, 0.055, 0.070, 0.075,
    0.073, 0.072, 0.068, 0.058, 0.034, 0.005, 0.030, 0.055, 0.070, 0.074,
    0.078, 0.072, 0.068, 0.058, 0.034, 0.005, 0.030, 0.055, 0.070, 0.074]
dmop3_sgea = [
    0.110, 0.030, 0.012, 0.011, 0.009, 0.005, 0.009, 0.011, 0.012, 0.012,
    0.012, 0.012, 0.011, 0.010, 0.008, 0.005, 0.009, 0.011, 0.012, 0.012,
    0.012, 0.012, 0.011, 0.010, 0.008, 0.005, 0.009, 0.011, 0.012, 0.012,
    0.012, 0.012, 0.011, 0.010, 0.008, 0.005, 0.009, 0.011, 0.012, 0.012,
    0.012, 0.012, 0.011, 0.010, 0.008, 0.005, 0.009, 0.011, 0.012, 0.012,
    0.012, 0.012, 0.011, 0.010, 0.008, 0.005, 0.009, 0.011, 0.012, 0.012]
dmop3_dy = [
    0.120, 0.030, 0.025, 0.018, 0.010, 0.003, 0.015, 0.030, 0.040, 0.045,
    0.046, 0.044, 0.038, 0.028, 0.015, 0.003, 0.016, 0.030, 0.040, 0.046,
    0.047, 0.045, 0.038, 0.028, 0.015, 0.003, 0.016, 0.031, 0.041, 0.046,
    0.046, 0.044, 0.037, 0.027, 0.015, 0.003, 0.016, 0.030, 0.040, 0.046,
    0.047, 0.044, 0.038, 0.028, 0.015, 0.003, 0.016, 0.030, 0.041, 0.046,
    0.046, 0.044, 0.038, 0.028, 0.015, 0.003, 0.016, 0.030, 0.040, 0.045]
dmop3_dvepso = [
    0.050, 0.040, 0.030, 0.030, 0.035, 0.050, 0.040, 0.050, 0.100, 0.350,
    0.580, 0.620, 0.680, 0.600, 0.700, 0.640, 0.450, 0.050, 0.040, 0.600,
    0.350, 0.050, 0.040, 0.030, 0.030, 0.040, 0.050, 0.040, 0.040, 0.050,
    0.600, 0.660, 0.550, 0.300, 0.050, 0.040, 0.040, 0.030, 0.040, 0.670,
    0.100, 0.040, 0.030, 0.040, 0.050, 0.040, 0.040, 0.050, 0.100, 0.500,
    0.450, 0.550, 0.400, 0.520, 0.600, 0.480, 0.550, 0.450, 0.600, 0.150]


def rect(l, top, r, b):
    return [l / W, 1 - b / H, (r - l) / W, (b - top) / H]


fmt = FuncFormatter(lambda v, p: '%g' % round(v, 6))


def draw_lines(ax, series):
    lines = []
    for vals, c, lw, ls in zip(series, colors, widths, styles):
        ln, = ax.plot(t, vals, color=c, lw=lw, ls=ls)
        lines.append(ln)
    return lines


def style_axes(ax, fs=4.6, frame=0.6):
    ax.tick_params(direction='in', length=2, width=0.5, labelsize=fs, pad=1.5,
                   top=True, right=True)
    for s in ax.spines.values():
        s.set_linewidth(frame)
    ax.yaxis.set_major_formatter(fmt)


panels = [
    ('(a)  FDA1', [fda1_pdtea, fda1_dnsa, fda1_pps, fda1_moead, fda1_sgea, fda1_dy, fda1_dvepso],
     (2, 4, 217, 125), (0, 0.5), [i * 0.05 for i in range(11)], False,
     (48, 57, 186, 109), (0.0025, 0.04), [0.01, 0.02, 0.03, 0.04], (102, 163)),
    ('(b)  FDA2', [fda2_pdtea, fda2_dnsa, fda2_pps, fda2_moead, fda2_sgea, fda2_dy, fda2_dvepso],
     (289, 4, 503, 122), (0, 0.12), [0, 0.02, 0.04, 0.06, 0.08, 0.1, 0.12], True,
     (314, 17, 435, 68), (0.003, 0.02), [0.005, 0.01, 0.015, 0.02], (391, 163)),
    ('(c)  FDA3', [fda3_pdtea, fda3_dnsa, fda3_pps, fda3_moead, fda3_sgea, fda3_dy, fda3_dvepso],
     (2, 187, 217, 306), (0, 1.0), [i * 0.1 for i in range(11)], False,
     (38, 237, 167, 278), (0, 0.2), [0.05, 0.1, 0.15, 0.2], (102, 344)),
    ('(d)  FDA4', [fda4_pdtea, fda4_dnsa, fda4_pps, fda4_moead, fda4_sgea, fda4_dy, fda4_dvepso],
     (289, 187, 503, 305), (0, 0.9), [i * 0.1 for i in range(10)], True,
     None, None, None, (391, 344)),
    ('(e)  FDA5', [fda5_pdtea, fda5_dnsa, fda5_pps, fda5_moead, fda5_sgea, fda5_dy, fda5_dvepso],
     (2, 372, 217, 488), (0, 1.0), [i * 0.1 for i in range(11)], False,
     None, None, None, (102, 529)),
    ('(f)  dMOP1', [dmop1_pdtea, dmop1_dnsa, dmop1_pps, dmop1_moead, dmop1_sgea, dmop1_dy, dmop1_dvepso],
     (289, 372, 503, 488), (0, 1.5), [0, 0.5, 1, 1.5], True,
     (313, 387, 431, 433), (0, 0.02), [0, 0.005, 0.01, 0.015, 0.02], (391, 529)),
    ('(g)  dMOP2', [dmop2_pdtea, dmop2_dnsa, dmop2_pps, dmop2_moead, dmop2_sgea, dmop2_dy, dmop2_dvepso],
     (2, 554, 217, 673), (0, 1.2), [i * 0.2 for i in range(7)], False,
     (23, 588, 145, 633), (0, 0.1), [0, 0.05, 0.1], (102, 712)),
    ('(h)  dMOP3', [dmop3_pdtea, dmop3_dnsa, dmop3_pps, dmop3_moead, dmop3_sgea, dmop3_dy, dmop3_dvepso],
     (289, 554, 503, 672), (0, 0.8), [i * 0.1 for i in range(9)], True,
     (306, 588, 433, 637), (0, 0.1), [0, 0.02, 0.04, 0.06, 0.08, 0.1], (391, 712)),
]

fig = plt.figure(figsize=(W / 100, H / 100), dpi=100)

for (cap, series, box, ylim, yticks, right_col, ibox, iylim, iyticks, cxy) in panels:
    ax = fig.add_axes(rect(*box))
    lines = draw_lines(ax, series)
    ax.set_xlim(0, 120)
    ax.set_ylim(*ylim)
    ax.set_xticks(range(0, 121, 20))
    ax.set_yticks(yticks)
    style_axes(ax)
    ax.set_xlabel('time', fontsize=4.6, labelpad=0.5)
    if right_col:
        ax.set_ylabel('IGD', fontsize=4.6, labelpad=1.5)
    else:
        # the left column sits against the page edge, its y labels fall outside
        ax.tick_params(labelleft=False)
    leg = ax.legend(lines, names, loc='upper right', fontsize=4.3, handlelength=3.8,
                    handletextpad=0.7, labelspacing=0.0, borderpad=0.3,
                    borderaxespad=0.4, fancybox=False, framealpha=1, edgecolor='black')
    leg.get_frame().set_linewidth(0.8)
    leg.set_zorder(10)

    if ibox is not None:
        ins = fig.add_axes(rect(*ibox))
        draw_lines(ins, series)
        ins.set_xlim(1, 120)
        ins.set_ylim(*iylim)
        ins.set_xticks(range(20, 121, 20))
        ins.set_yticks(iyticks)
        style_axes(ins, frame=1.0)

    fig.text(cxy[0] / W, 1 - cxy[1] / H, cap, family='cmr10', fontsize=9,
             ha='center', va='center')

fig.savefig('out.png', dpi=100)
